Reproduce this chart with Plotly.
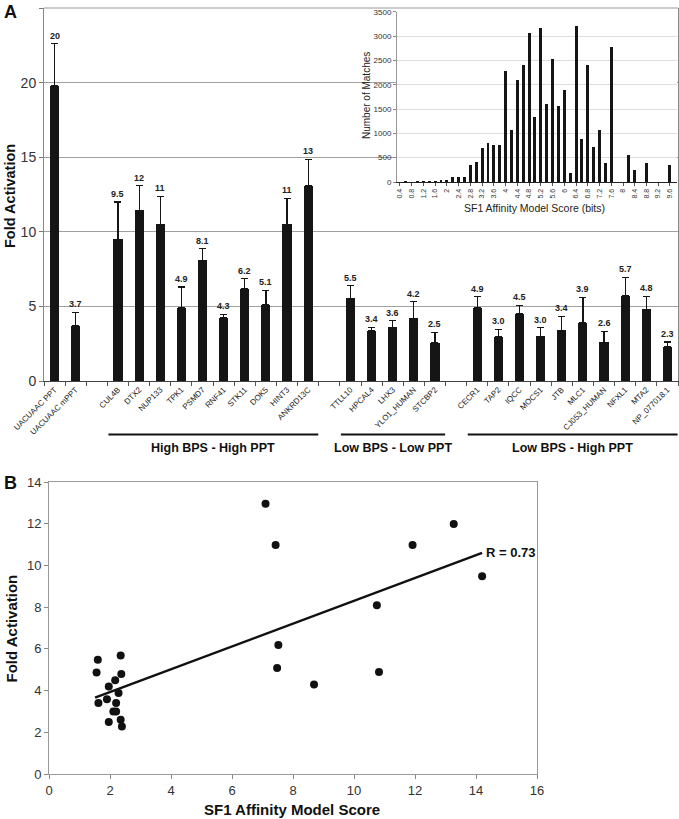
import numpy as np
import plotly.graph_objects as go

W, H = 679, 819
FONT = "Liberation Sans, Arial, Helvetica, sans-serif"


def px(x):
    return x / W


def py(y):
    return (H - y) / H


# ---------------- Panel A data ----------------
category_order = ["UACUAAC PPT", "UACUAAC mPPT", " ",
                  "CUL4B", "DTX2", "NUP133", "TPK1", "PSMD7", "RNF41", "STK11", "DOK5", "HINT3", "ANKRD13C", "  ",
                  "TTLL10", "HPCAL4", "LHX3", "YLO1_HUMAN", "STCBP2", "   ",
                  "CECR1", "TAP2", "IQCC", "MOCS1", "JTB", "MLC1", "CJ053_HUMAN", "NFXL1", "MTA2", "NP_077018.1"]

genes = ["UACUAAC PPT", "UACUAAC mPPT",
         "CUL4B", "DTX2", "NUP133", "TPK1", "PSMD7", "RNF41", "STK11", "DOK5", "HINT3", "ANKRD13C",
         "TTLL10", "HPCAL4", "LHX3", "YLO1_HUMAN", "STCBP2",
         "CECR1", "TAP2", "IQCC", "MOCS1", "JTB", "MLC1", "CJ053_HUMAN", "NFXL1", "MTA2", "NP_077018.1"]
fold_activation = [19.8, 3.7,
                   9.5, 11.45, 10.5, 4.9, 8.1, 4.25, 6.2, 5.1, 10.5, 13.1,
                   5.55, 3.35, 3.6, 4.2, 2.55,
                   4.9, 2.95, 4.5, 3.0, 3.4, 3.9, 2.6, 5.7, 4.8, 2.3]
fold_error = [2.8, 0.9,
              2.5, 1.65, 1.87, 1.4, 0.78, 0.22, 0.67, 0.99, 1.74, 1.75,
              0.83, 0.25, 0.43, 1.12, 0.72,
              0.74, 0.52, 0.58, 0.56, 0.94, 1.72, 0.73, 1.26, 0.88, 0.32]
value_labels = ["20", "3.7",
                "9.5", "12", "11", "4.9", "8.1", "4.3", "6.2", "5.1", "11", "13",
                "5.5", "3.4", "3.6", "4.2", "2.5",
                "4.9", "3.0", "4.5", "3.0", "3.4", "3.9", "2.6", "5.7", "4.8", "2.3"]

group_names = ["High BPS - High PPT", "Low BPS - Low PPT", "Low BPS - High PPT"]
group_first = ["CUL4B", "TTLL10", "CECR1"]
group_last = ["ANKRD13C", "STCBP2", "NP_077018.1"]

# ---------------- Inset data ----------------
score_bins = [0.4, 0.6, 0.8, 1.0, 1.2, 1.4, 1.6, 1.8, 2.0, 2.2, 2.4, 2.6, 2.8, 3.0, 3.2, 3.4, 3.6, 3.8,
              4.0, 4.2, 4.4, 4.6, 4.8, 5.0, 5.2, 5.4, 5.6, 5.8, 6.0, 6.2, 6.4, 6.6, 6.8, 7.0, 7.2, 7.4,
              7.6, 7.8, 8.0, 8.2, 8.4, 8.6, 8.8, 9.0, 9.2, 9.4, 9.6]
match_counts = [3, 8, 3, 10, 10, 20, 25, 55, 40, 100, 100, 115, 360, 425, 700, 810, 760, 760,
                2290, 1070, 2105, 2405, 3060, 1340, 3180, 1610, 2530, 1560, 1890, 195, 3215, 895, 2415, 725, 1085, 400,
                2790, 0, 0, 560, 255, 0, 405, 0, 0, 0, 350]
inset_tickvals = [0.4, 0.8, 1.2, 1.6, 2.0, 2.4, 2.8, 3.2, 3.6, 4.0, 4.4, 4.8, 5.2, 5.6, 6.0, 6.4,
                  6.8, 7.2, 7.6, 8.0, 8.4, 8.8, 9.2, 9.6]
inset_ticktext = ["0.4", "0.8", "1.2", "1.6", "2", "2.4", "2.8", "3.2", "3.6", "4", "4.4", "4.8", "5.2", "5.6",
                  "6", "6.4", "6.8", "7.2", "7.6", "8", "8.4", "8.8", "9.2", "9.6"]

# ---------------- Panel B data ----------------
model_score = [1.60, 1.56, 2.35, 2.37, 1.96, 2.17, 2.28, 1.62, 1.90, 2.20, 2.11, 2.20, 1.96, 2.35, 2.39,
               7.10, 7.43, 7.52, 7.48, 8.69,
               13.27, 11.92, 14.20, 10.75, 10.82]
model_fold = [5.48, 4.87, 5.68, 4.79, 4.20, 4.49, 3.88, 3.40, 3.58, 3.40, 3.00, 3.00, 2.49, 2.60, 2.28,
              12.96, 10.98, 6.18, 5.08, 4.29,
              11.99, 10.98, 9.48, 8.09, 4.89]
r_text = "R = 0.73"

fig = go.Figure()

# Panel A bars
fig.add_trace(go.Bar(
    x=genes, y=fold_activation, width=0.43,
    marker=dict(color="#151515", line=dict(width=0)),
    error_y=dict(type="data", symmetric=False, array=fold_error, arrayminus=[0] * len(fold_error),
                 color="#151515", thickness=1.2, width=3.5),
    xaxis="x", yaxis="y", showlegend=False,
))

# Inset histogram
fig.add_trace(go.Bar(
    x=score_bins, y=match_counts, width=0.1,
    marker=dict(color="#151515", line=dict(width=0)),
    xaxis="x2", yaxis="y2", showlegend=False,
))

# Panel B scatter + fit
fig.add_trace(go.Scatter(
    x=model_score, y=model_fold, mode="markers",
    marker=dict(color="#111111", size=8),
    xaxis="x3", yaxis="y3", showlegend=False,
))
slope, intercept = np.polyfit(model_score, model_fold, 1)
fit_x = [min(model_score) - 0.05, max(model_score)]
fit_y = [slope * v + intercept for v in fit_x]
fig.add_trace(go.Scatter(
    x=fit_x, y=fit_y, mode="lines",
    line=dict(color="#111111", width=2.5),
    xaxis="x3", yaxis="y3", showlegend=False,
))

annotations = []
# bar value labels
for g, v, e, t in zip(genes, fold_activation, fold_error, value_labels):
    annotations.append(dict(x=g, y=v + e, xref="x", yref="y", text=t, showarrow=False,
                            xanchor="center", yanchor="bottom", yshift=1,
                            font=dict(family=FONT, size=9, color="#222222", weight="bold")))

shapes = []
for name, a, b in zip(group_names, group_first, group_last):
    i0 = category_order.index(a)
    i1 = category_order.index(b)
    shapes.append(dict(type="line", xref="x", yref="paper", x0=i0 - 0.45, x1=i1 + 0.48,
                       y0=py(434.5), y1=py(434.5), line=dict(color="#111111", width=2)))
    annotations.append(dict(x=(i0 + i1) / 2, y=py(448), xref="x", yref="paper", text=name, showarrow=False,
                            xanchor="center", yanchor="middle",
                            font=dict(family=FONT, size=12.5, color="#111111", weight="bold")))

# top border of panel A
shapes.append(dict(type="line", xref="paper", yref="paper", x0=px(44), x1=px(678), y0=py(8), y1=py(8),
                   line=dict(color="#999999", width=1)))

# fit label
annotations.append(dict(x=fit_x[1], y=fit_y[1], xref="x3", yref="y3", text=r_text, showarrow=False,
                        xanchor="left", yanchor="middle", xshift=2,
                        font=dict(family=FONT, size=13, color="#111111", weight="bold")))


def label(x, y, text, size, bold=True, angle=0, color="#111111"):
    return dict(x=px(x), y=py(y), xref="paper", yref="paper", text=text, showarrow=False,
                xanchor="center", yanchor="middle", textangle=angle,
                font=dict(family=FONT, size=size, color=color, weight="bold" if bold else "normal"))


# panel letters and titles
annotations += [
    label(10, 12.5, "A", 18),
    label(10, 483, "B", 18),
    label(10, 196, "Fold Activation", 14.5, angle=-90),
    label(10.5, 629, "Fold Activation", 15, angle=-90),
    label(292, 809, "SF1 Affinity Model Score", 15),
    label(366, 96, "Number of Matches", 10, bold=False, angle=-90, color="#222222"),
    label(534, 208, "SF1 Affinity Model Score (bits)", 10.5, bold=False, color="#222222"),
]

fig.update_layout(
    width=W, height=H,
    margin=dict(l=0, r=0, t=0, b=0, autoexpand=False),
    paper_bgcolor="white", plot_bgcolor="white",
    font=dict(family=FONT, color="#222222"),
    bargap=0,
    xaxis=dict(domain=[px(44), px(678)], anchor="y", type="category", automargin=False,
               categoryorder="array", categoryarray=category_order, range=[-0.5, 29.5],
               tickson="boundaries", ticks="outside", ticklen=4, tickcolor="#555555",
               tickangle=-45, tickfont=dict(size=8, color="#222222"),
               showline=True, linecolor="#444444", linewidth=1, showgrid=False, zeroline=False),
    yaxis=dict(domain=[py(381), py(8)], anchor="x", range=[0, 25], dtick=5, automargin=False,
               ticks="outside", ticklen=4, tickcolor="#777777",
               tickfont=dict(size=14, color="#333333"),
               showline=True, linecolor="#888888", mirror=True, showgrid=True, gridcolor="#a0a0a0",
               gridwidth=1, zeroline=False),
    xaxis2=dict(domain=[px(397), px(677)], anchor="y2", range=[0.3, 9.84], automargin=False,
                tickvals=inset_tickvals, ticktext=inset_ticktext, tickangle=-90,
                tickfont=dict(size=7, color="#333333"), ticks="outside", ticklen=3, tickcolor="#555555",
                showline=True, linecolor="#222222", showgrid=False, zeroline=False),
    yaxis2=dict(domain=[py(182), py(11.7)], anchor="x2", range=[0, 3500], dtick=500, automargin=False,
                tickfont=dict(size=8, color="#333333"), ticks="outside", ticklen=3, tickcolor="#888888",
                showline=True, linecolor="#999999", showgrid=True, gridcolor="#dddddd", zeroline=False),
    xaxis3=dict(domain=[px(49), px(537)], anchor="y3", range=[0, 16], dtick=2, automargin=False,
                ticks="outside", ticklen=4, tickcolor="#888888",
                tickfont=dict(size=13, color="#333333"),
                showline=True, linecolor="#999999", mirror=True, showgrid=False, zeroline=False),
    yaxis3=dict(domain=[py(774), py(482)], anchor="x3", range=[0, 14], dtick=2, automargin=False,
                ticks="outside", ticklen=4, tickcolor="#888888",
                tickfont=dict(size=13, color="#333333"),
                showline=True, linecolor="#999999", mirror=True, showgrid=False, zeroline=False),
    annotations=annotations,
    shapes=shapes,
)

fig.write_html("out.html", config={"displayModeBar": False},
               post_script="document.body.style.margin='0';document.body.style.padding='0';")
